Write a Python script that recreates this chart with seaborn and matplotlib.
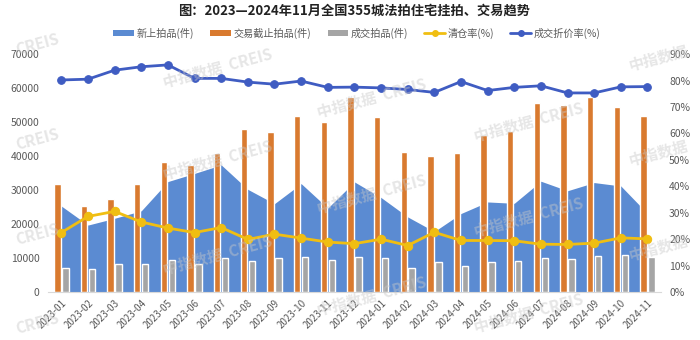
import numpy as np
import pandas as pd
import matplotlib
matplotlib.use("Agg")
import matplotlib.pyplot as plt
from matplotlib.patches import Patch
from matplotlib.lines import Line2D
from matplotlib.ticker import FuncFormatter, MultipleLocator
import seaborn as sns

# ---------------- data ----------------
months = ["2023-01", "2023-02", "2023-03", "2023-04", "2023-05", "2023-06",
          "2023-07", "2023-08", "2023-09", "2023-10", "2023-11", "2023-12",
          "2024-01", "2024-02", "2024-03", "2024-04", "2024-05", "2024-06",
          "2024-07", "2024-08", "2024-09", "2024-10", "2024-11"]
new_listings = [25300, 19700, 21700, 23900, 32500, 34900, 37400, 30200, 26000,
                31900, 24700, 32400, 27800, 22100, 17800, 23100, 26500, 26100,
                32600, 29800, 32200, 31200, 23100]
closing_items = [31700, 25300, 27500, 31900, 38400, 37300, 40900, 48100, 47000,
                 51900, 50100, 57500, 51600, 41100, 39900, 40800, 46100, 47500,
                 55700, 55000, 57300, 54300, 51800]
deal_items = [7000, 6900, 8300, 8300, 9300, 8200, 10000, 9200, 10100, 10400,
              9400, 10400, 10100, 7200, 8700, 7800, 8800, 9000, 9900, 9800,
              10500, 11000, 10300]
clearance_rate = [22.5, 28.6, 30.5, 26.5, 24.2, 22.5, 24.4, 19.9, 21.9, 20.4,
                  18.9, 18.3, 20.0, 17.6, 22.6, 19.5, 19.5, 19.4, 18.1, 18.0,
                  18.5, 20.5, 20.1]
discount_rate = [80.2, 80.5, 83.9, 85.2, 85.9, 80.8, 80.8, 79.4, 78.6, 79.8,
                 77.4, 77.5, 77.2, 76.6, 75.5, 79.6, 76.2, 77.4, 78.0, 75.3,
                 75.3, 77.6, 77.7]
series_names = ["新上拍品(件)", "交易截止拍品(件)", "成交拍品(件)", "清仓率(%)", "成交折价率(%)"]
title = "图：2023—2024年11月全国355城法拍住宅挂拍、交易趋势"
left_ticks = [0, 10000, 20000, 30000, 40000, 50000, 60000, 70000]

# ---------------- style ----------------
sns.set_style("white")
plt.rcParams["font.family"] = ["Noto Sans CJK SC", "DejaVu Sans"]
plt.rcParams["axes.unicode_minus"] = False

c_area = "#5B8BD2"
c_orange = "#D97A2F"
c_gray = "#A5A5A5"
c_yellow = "#F0BE12"
c_blue = "#3F5CC2"
c_text = "#595959"

fig = plt.figure(figsize=(7, 3.4), dpi=100)
ax = fig.add_axes([0.0686, 0.141, 0.944 - 0.0686, 0.841 - 0.141])

x = np.arange(len(months))

# area
ax.fill_between(x, new_listings, 0, color=c_area, linewidth=0, zorder=1)

# bars
bars_df = pd.DataFrame({
    "month": months * 2,
    "value": closing_items + deal_items,
    "series": [series_names[1]] * len(months) + [series_names[2]] * len(months),
})
sns.barplot(data=bars_df, x="month", y="value", hue="series",
            hue_order=[series_names[1], series_names[2]],
            palette=[c_orange, c_gray], width=0.6, gap=0.2,
            errorbar=None, legend=False, ax=ax, zorder=2, saturation=1)

ax.set_xlim(-0.5, len(months) - 0.5)
ax.set_ylim(0, 70000)
ax.set_yticks(left_ticks)
ax.set_xlabel("")
ax.set_ylabel("")
ax.set_xticks(x)
ax.set_xticklabels(months, rotation=45, ha="right", rotation_mode="anchor",
                   fontsize=7, color=c_text)
ax.tick_params(axis="y", labelsize=7.5, labelcolor=c_text, length=0, pad=6)
ax.tick_params(axis="x", length=0, pad=4)
for s in ["left", "right", "top"]:
    ax.spines[s].set_visible(False)
ax.spines["bottom"].set_color("#D9D9D9")
ax.spines["bottom"].set_linewidth(0.8)
ax.spines["bottom"].set_zorder(3)

# lines on secondary axis
ax2 = ax.twinx()
sns.lineplot(x=x, y=clearance_rate, ax=ax2, color=c_yellow, linewidth=2.0,
             marker="o", markersize=6, markeredgecolor=c_yellow)
sns.lineplot(x=x, y=discount_rate, ax=ax2, color=c_blue, linewidth=2.0,
             marker="o", markersize=5.5, markeredgecolor=c_blue)
ax2.set_ylim(0, 90)
ax2.yaxis.set_major_locator(MultipleLocator(10))
ax2.yaxis.set_major_formatter(FuncFormatter(lambda v, p: f"{v:.0f}%"))
ax2.tick_params(axis="y", labelsize=7.5, labelcolor=c_text, length=0, pad=6)
ax2.set_ylabel("")
ax2.set_xlim(-0.5, len(months) - 0.5)
for s in ["left", "right", "top", "bottom"]:
    ax2.spines[s].set_visible(False)

# title
fig.text(0.506, 1 - 11 / 340, title, ha="center", va="center",
         fontsize=9.5, fontweight="bold", color="#222222")

# legend
handles = [
    Patch(facecolor=c_area, edgecolor="none"),
    Patch(facecolor=c_orange, edgecolor="none"),
    Patch(facecolor=c_gray, edgecolor="none"),
    Line2D([0], [0], color=c_yellow, lw=2, marker="o", markersize=4),
    Line2D([0], [0], color=c_blue, lw=2, marker="o", markersize=4),
]
leg = fig.legend(handles, series_names, loc="center",
                 bbox_to_anchor=(0.51, 1 - 33 / 340), ncol=5, frameon=False,
                 fontsize=7.3, handlelength=2.0, handleheight=0.5,
                 columnspacing=1.6, handletextpad=0.3)
for t in leg.get_texts():
    t.set_color(c_text)

# watermarks
wm_full = "中指数据  CREIS"
wm_items = [(0.02, 0.87, "CREIS"), (0.02, 0.59, "CREIS"), (0.02, 0.31, "CREIS"),
            (0.02, 0.05, "CREIS"),
            (0.23, 0.80, wm_full), (0.23, 0.53, wm_full), (0.23, 0.25, wm_full),
            (0.45, 0.71, wm_full), (0.45, 0.43, wm_full), (0.45, 0.13, wm_full),
            (0.675, 0.64, wm_full), (0.675, 0.36, wm_full), (0.675, 0.08, wm_full),
            (0.895, 0.83, "中指数据"), (0.895, 0.55, "中指数据"), (0.895, 0.27, "中指数据")]
for (wx, wy, wt) in wm_items:
    fig.text(wx, wy, wt, fontsize=11, fontweight="bold",
             color="#C8C8C8", alpha=0.45, rotation=15, ha="left",
             va="center", zorder=10)

fig.savefig("out.png", dpi=100)
